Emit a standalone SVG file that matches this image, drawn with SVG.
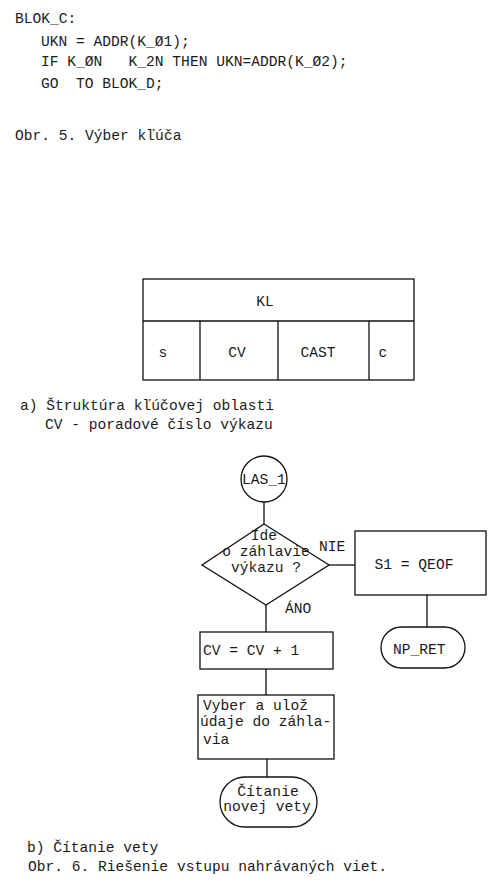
<svg xmlns="http://www.w3.org/2000/svg" width="502" height="885" viewBox="0 0 502 885">
<style>
text{font-family:"Liberation Mono","DejaVu Sans Mono",monospace;font-size:14.6px;fill:#1a1a1a;white-space:pre}
.c{text-anchor:middle}
.s{fill:none;stroke:#111;stroke-width:1.3}
</style>
<rect width="502" height="885" fill="#fff"/>
<g id="code">
<text x="15" y="23">BLOK_C:</text>
<text x="41" y="46">UKN = ADDR(K_Ø1);</text>
<text x="41" y="66">IF K_ØN   K_2N THEN UKN=ADDR(K_Ø2);</text>
<text x="41" y="88">GO  TO BLOK_D;</text>
<text x="15" y="140">Obr. 5. Výber kľúča</text>
</g>
<g id="table">
<rect class="s" x="143" y="279" width="271" height="101"/>
<line class="s" x1="143" y1="321" x2="414" y2="321"/>
<line class="s" x1="200" y1="321" x2="200" y2="380"/>
<line class="s" x1="278" y1="321" x2="278" y2="380"/>
<line class="s" x1="369" y1="321" x2="369" y2="380"/>
<text class="c" x="265" y="306">KL</text>
<text class="c" x="163" y="357">s</text>
<text class="c" x="237" y="357">CV</text>
<text class="c" x="318" y="357">CAST</text>
<text class="c" x="383" y="357">c</text>
</g>
<g id="caption-a">
<text x="20" y="410">a) Štruktúra kľúčovej oblasti</text>
<text x="45" y="429">CV - poradové číslo výkazu</text>
</g>
<g id="connectors">
<line class="s" x1="264" y1="502" x2="264" y2="524"/>
<line class="s" x1="329" y1="565" x2="355" y2="565"/>
<line class="s" x1="266" y1="605" x2="266" y2="632"/>
<line class="s" x1="427" y1="595" x2="427" y2="627"/>
<line class="s" x1="266" y1="669" x2="266" y2="695"/>
<line class="s" x1="267" y1="759" x2="267" y2="777"/>
<text x="319" y="551">NIE</text>
<text x="285" y="613">ÁNO</text>
</g>
<g id="start">
<circle class="s" cx="264" cy="479" r="23"/>
<text class="c" x="264" y="484">LAS_1</text>
</g>
<g id="decision">
<polygon class="s" points="264,524 329,565 266,605 202,565"/>
<text class="c" x="264" y="540">Ide</text>
<text class="c" x="266" y="556">o záhlavie</text>
<text class="c" x="266" y="572">výkazu ?</text>
</g>
<g id="qeof">
<rect class="s" x="355" y="531" width="131" height="64"/>
<text class="c" x="414" y="569">S1 = QEOF</text>
</g>
<g id="npret">
<rect class="s" x="381" y="627" width="84" height="41" rx="20.5"/>
<text x="393" y="654">NP_RET</text>
</g>
<g id="cv">
<rect class="s" x="200" y="632" width="133" height="37"/>
<text x="203" y="655">CV = CV + 1</text>
</g>
<g id="vyber">
<rect class="s" x="198" y="695" width="136" height="64"/>
<text x="203" y="710">Vyber a ulož</text>
<text x="200" y="726">údaje do záhla-</text>
<text x="203" y="744">via</text>
</g>
<g id="citanie">
<rect class="s" x="220" y="777" width="97" height="50" rx="25"/>
<text class="c" x="268" y="796">Čítanie</text>
<text class="c" x="267" y="811">novej vety</text>
</g>
<g id="caption-b">
<text x="27" y="852">b) Čítanie vety</text>
<text x="28" y="871">Obr. 6. Riešenie vstupu nahrávaných viet.</text>
</g>
</svg>
